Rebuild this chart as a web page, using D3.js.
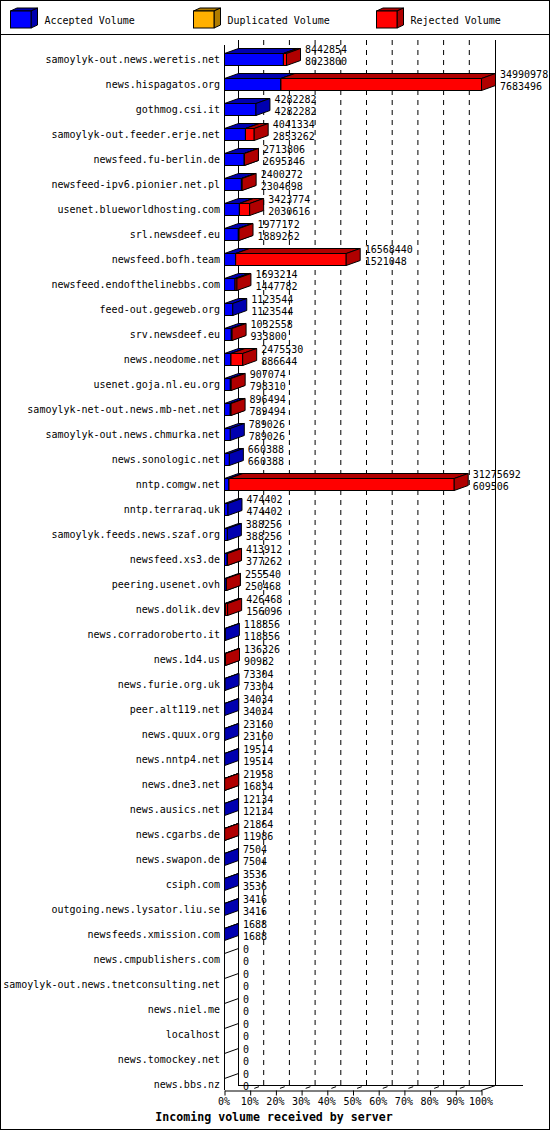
<!DOCTYPE html>
<html>
<head>
<meta charset="utf-8">
<script src="https://cdn.jsdelivr.net/npm/d3@7/dist/d3.min.js"></script>
<style>
  body { margin: 0; background: #fff; }
  svg { display: block; }
  text { font-family: "DejaVu Sans Mono", "Liberation Mono", monospace; font-size: 10px; fill: #000; }
</style>
</head>
<body>
<script>
// servers, top to bottom
var hosts = [
  "samoylyk-out.news.weretis.net", "news.hispagatos.org", "gothmog.csi.it",
  "samoylyk-out.feeder.erje.net", "newsfeed.fu-berlin.de", "newsfeed-ipv6.pionier.net.pl",
  "usenet.blueworldhosting.com", "srl.newsdeef.eu", "newsfeed.bofh.team",
  "newsfeed.endofthelinebbs.com", "feed-out.gegeweb.org", "srv.newsdeef.eu",
  "news.neodome.net", "usenet.goja.nl.eu.org", "samoylyk-net-out.news.mb-net.net",
  "samoylyk-out.news.chmurka.net", "news.sonologic.net", "nntp.comgw.net",
  "nntp.terraraq.uk", "samoylyk.feeds.news.szaf.org", "newsfeed.xs3.de",
  "peering.usenet.ovh", "news.dolik.dev", "news.corradoroberto.it",
  "news.1d4.us", "news.furie.org.uk", "peer.alt119.net",
  "news.quux.org", "news.nntp4.net", "news.dne3.net",
  "news.ausics.net", "news.cgarbs.de", "news.swapon.de",
  "csiph.com", "outgoing.news.lysator.liu.se", "newsfeeds.xmission.com",
  "news.cmpublishers.com", "samoylyk-out.news.tnetconsulting.net", "news.niel.me",
  "localhost", "news.tomockey.net", "news.bbs.nz"
];

var totalVolume = [
  8442854, 34990978, 4282282, 4041334, 2713806, 2400272,
  3423774, 1977172, 16568440, 1693214, 1123544, 1032558,
  2475530, 907074, 896494, 789026, 660388, 31275692,
  474402, 388256, 413912, 255540, 426468, 118856,
  136326, 73304, 34034, 23160, 19514, 21958,
  12134, 21864, 7504, 3536, 3416, 1688,
  0, 0, 0, 0, 0, 0
];

var acceptedVolume = [
  8023800, 7683496, 4282282, 2853262, 2695346, 2304698,
  2030616, 1889262, 1521048, 1447782, 1123544, 933800,
  886644, 798310, 789494, 789026, 660388, 609506,
  474402, 388256, 377262, 250468, 156096, 118856,
  90982, 73304, 34034, 23160, 19514, 16834,
  12134, 11986, 7504, 3536, 3416, 1688,
  0, 0, 0, 0, 0, 0
];

var duplicatedVolume = [
  0, 0, 0, 0, 0, 0, 0, 0, 0, 0, 0, 0, 0, 0,
  0, 0, 0, 0, 0, 0, 0, 0, 0, 0, 0, 0, 0, 0,
  0, 0, 0, 0, 0, 0, 0, 0, 0, 0, 0, 0, 0, 0
];

var legendLabels = ["Accepted Volume", "Duplicated Volume", "Rejected Volume"];
var percentTicks = [0, 10, 20, 30, 40, 50, 60, 70, 80, 90, 100];

// front / dark (top+side) colours per series
var colors = [["#0000ff", "#0000b0"], ["#ffb000", "#b07c00"], ["#ff0000", "#b00000"]];

var W = 550, H = 1130;
var DX = 14, DY = -5, HALF = 6;

var svg = d3.select("body").append("svg").attr("width", W).attr("height", H);
svg.append("rect").attr("x", 0).attr("y", 0).attr("width", W).attr("height", H).attr("fill", "#fff");

var x = d3.scaleLinear().domain([0, d3.max(totalVolume)]).range([224, 481]);
var pct = d3.scaleLinear().domain([0, 100]).range([224, 481]);
var y = d3.scalePoint().domain(hosts).range([59, 1084]);

function line(g, x1, y1, x2, y2) {
  return g.append("line").attr("x1", x1).attr("y1", y1).attr("x2", x2).attr("y2", y2)
    .attr("stroke", "#000").attr("stroke-width", 1).attr("shape-rendering", "crispEdges");
}

function txt(g, tx, ty, s, anchor, bold) {
  var t = g.append("text").attr("x", tx).attr("y", ty)
    .attr("text-anchor", anchor || "start").attr("dy", "0.36em").text(s);
  if (bold) t.style("font-weight", "bold").style("font-size", "11.6px");
  return t;
}

// outer frame + legend
svg.append("rect").attr("x", 0.5).attr("y", 0.5).attr("width", W - 1).attr("height", H - 1)
  .attr("fill", "none").attr("stroke", "#000");
line(svg, 0, 34.5, W, 34.5);

var legend = svg.append("g");
legendLabels.forEach(function(lab, k) {
  var lx = 10.5 + k * 183, ly = 11, lw = 20.5, lh = 17, ldx = 6.5, ldy = -3;
  legend.append("polygon")
    .attr("points", [[lx, ly], [lx + ldx, ly + ldy], [lx + lw + ldx, ly + ldy], [lx + lw, ly]].join(" "))
    .attr("fill", colors[k][1]).attr("stroke", "#000");
  legend.append("polygon")
    .attr("points", [[lx + lw, ly], [lx + lw + ldx, ly + ldy], [lx + lw + ldx, ly + lh + ldy], [lx + lw, ly + lh]].join(" "))
    .attr("fill", colors[k][1]).attr("stroke", "#000");
  legend.append("rect").attr("x", lx).attr("y", ly).attr("width", lw).attr("height", lh)
    .attr("fill", colors[k][0]).attr("stroke", "#000");
  txt(legend, lx + 34, 20, lab);
});

// dashed grid on back wall and floor
var grid = svg.append("g");
percentTicks.slice(1, -1).forEach(function(t) {
  grid.append("path")
    .attr("d", "M" + (pct(t) + DX) + ",40 V" + (1090 + DY) + " L" + pct(t) + ",1090")
    .attr("fill", "none").attr("stroke", "#000").attr("stroke-dasharray", "5,5");
});

// walls
line(svg, 224.5, 45, 224.5, 1090);
line(svg, 238.5, 40, 238.5, 1085);
line(svg, 495.5, 40, 495.5, 1085);
line(svg, 238, 1085.5, 523, 1085.5);
svg.append("line").attr("x1", 481).attr("y1", 1090.5).attr("x2", 495.5).attr("y2", 1085.5).attr("stroke", "#000");

// x axis (front edge of floor)
var axis = svg.append("g").attr("transform", "translate(0.5,1090.5)")
  .call(d3.axisBottom(pct).tickValues(percentTicks).tickSize(5).tickSizeOuter(0)
    .tickFormat(function(d) { return d + "%"; }));
axis.select(".domain").attr("stroke", "#000");
axis.selectAll(".tick line").attr("stroke", "#000");
axis.selectAll(".tick text").remove();
percentTicks.forEach(function(t) { txt(svg, pct(t), 1101.5, t + "%", "middle"); });

txt(svg, 274, 1117, "Incoming volume received by server", "middle", true);

// 3D boxes
function box(g, x0, x1, top, bot, c) {
  g.append("rect").attr("x", x0).attr("y", top).attr("width", Math.max(0, x1 - x0)).attr("height", bot - top)
    .attr("fill", c[0]).attr("stroke", "#000");
  g.append("polygon")
    .attr("points", [[x0, top], [x0 + DX, top + DY], [x1 + DX, top + DY], [x1, top]].join(" "))
    .attr("fill", c[1]).attr("stroke", "#000");
  g.append("polygon")
    .attr("points", [[x1, top], [x1 + DX, top + DY], [x1 + DX, bot + DY], [x1, bot]].join(" "))
    .attr("fill", c[1]).attr("stroke", "#000");
}

var bars = svg.append("g");
var labels = svg.append("g");
hosts.forEach(function(h, i) {
  var c = y(h), top = c - HALF + 0.5, bot = c + HALF + 0.5;
  txt(labels, 220, c, h, "end");

  var acc = acceptedVolume[i], dup = duplicatedVolume[i], tot = totalVolume[i];
  var segs = [[0, acc], [acc, acc + dup], [acc + dup, tot]];
  if (tot === 0) {
    bars.append("line").attr("x1", x(0) + 0.5).attr("y1", top).attr("x2", x(0) + DX + 0.5).attr("y2", top + DY)
      .attr("stroke", "#000");
  } else {
    segs.forEach(function(s, k) {
      if (s[1] > s[0]) box(bars, x(s[0]) + 0.5, x(s[1]) + 0.5, top, bot, colors[k]);
    });
  }

  var tx = x(tot) + DX + 5;
  txt(labels, tx, c - 10, String(tot));
  txt(labels, tx, c + 2, String(acc));
});
</script>
</body>
</html>
